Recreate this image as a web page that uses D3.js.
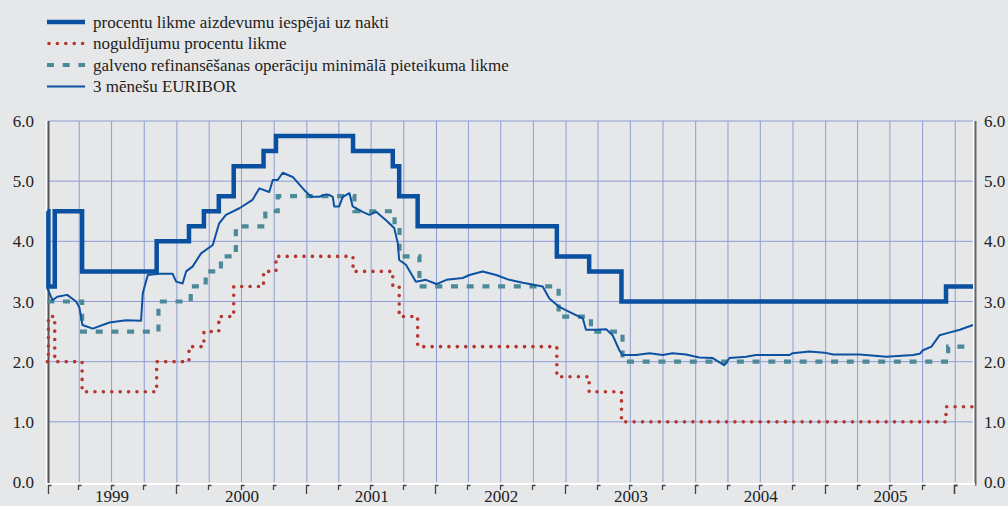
<!DOCTYPE html>
<html>
<head>
<meta charset="utf-8">
<script src="https://cdn.jsdelivr.net/npm/d3@7"></script>
<style>
  body { margin: 0; background: #e6e7e9; }
  svg { display: block; font-family: "Liberation Serif", "Times New Roman", serif; }
</style>
</head>
<body>
<svg width="1008" height="506"></svg>
<script>
// step series: date of change, new rate
let marginalDates = ["1999-01-01", "1999-01-04", "1999-01-22", "1999-04-09", "1999-11-05", "2000-02-04", "2000-03-17", "2000-04-28", "2000-06-09", "2000-09-01", "2000-10-06", "2001-05-11", "2001-08-31", "2001-09-18", "2001-11-09", "2002-12-06", "2003-03-07", "2003-06-06", "2005-12-06"];
let marginalValues = [4.50, 3.25, 4.50, 3.50, 4.00, 4.25, 4.50, 4.75, 5.25, 5.50, 5.75, 5.50, 5.25, 4.75, 4.25, 3.75, 3.50, 3.00, 3.25];

let depositDates = ["1999-01-01", "1999-01-04", "1999-01-22", "1999-04-09", "1999-11-05", "2000-02-04", "2000-03-17", "2000-04-28", "2000-06-09", "2000-09-01", "2000-10-06", "2001-05-11", "2001-08-31", "2001-09-18", "2001-11-09", "2002-12-06", "2003-03-07", "2003-06-06", "2005-12-06"];
let depositValues = [2.00, 2.75, 2.00, 1.50, 2.00, 2.25, 2.50, 2.75, 3.25, 3.50, 3.75, 3.50, 3.25, 2.75, 2.25, 1.75, 1.50, 1.00, 1.25];

let mroDates = ["1999-01-01", "1999-04-09", "1999-11-10", "2000-02-09", "2000-03-22", "2000-05-04", "2000-06-15", "2000-09-06", "2000-10-11", "2001-05-15", "2001-09-05", "2001-09-19", "2001-11-14", "2002-12-11", "2003-03-12", "2003-06-09", "2005-12-12"];
let mroValues = [3.00, 2.50, 3.00, 3.25, 3.50, 3.75, 4.25, 4.50, 4.75, 4.50, 4.25, 3.75, 3.25, 2.75, 2.50, 2.00, 2.25];

// 3M EURIBOR
let euriborDates = ["1999-01-01", "1999-01-16", "1999-01-29", "1999-02-26", "1999-03-23", "1999-04-01", "1999-04-10", "1999-05-09", "1999-06-25", "1999-08-11", "1999-09-22", "1999-09-27", "1999-10-11", "1999-11-13", "1999-12-20", "1999-12-30",
  "2000-01-17", "2000-01-27", "2000-02-14", "2000-03-09", "2000-04-11", "2000-04-29", "2000-05-18", "2000-06-25", "2000-08-01", "2000-08-20", "2000-09-17", "2000-09-27", "2000-10-11", "2000-10-25", "2000-11-22", "2000-12-25",
  "2001-01-13", "2001-02-05", "2001-02-24", "2001-03-05", "2001-03-15", "2001-03-19", "2001-04-02", "2001-04-12", "2001-05-01", "2001-05-10", "2001-06-07", "2001-06-26", "2001-07-15", "2001-08-12", "2001-09-04", "2001-09-14", "2001-09-18", "2001-10-07", "2001-11-04", "2001-12-02",
  "2002-01-01", "2002-01-29", "2002-03-16", "2002-04-04", "2002-05-11", "2002-06-18", "2002-07-25", "2002-09-01", "2002-10-09", "2002-10-27", "2002-11-15", "2002-12-13",
  "2003-01-20", "2003-02-17", "2003-02-26", "2003-03-26", "2003-04-24", "2003-05-12", "2003-05-31", "2003-06-09", "2003-07-17", "2003-08-24", "2003-09-30", "2003-10-28", "2003-12-05",
  "2004-01-11", "2004-02-18", "2004-03-22", "2004-04-05", "2004-05-22", "2004-06-19", "2004-09-21", "2004-09-30", "2004-11-16", "2004-12-29",
  "2005-01-22", "2005-04-07", "2005-06-21", "2005-09-04", "2005-09-23", "2005-10-02", "2005-10-26", "2005-11-18", "2005-12-07", "2006-01-14", "2006-02-20"];
let euriborValues = [3.22, 3.02, 3.08, 3.11, 3.00, 2.91, 2.61, 2.55, 2.65, 2.69, 2.68, 3.14, 3.44, 3.46, 3.46, 3.33,
  3.30, 3.50, 3.58, 3.80, 3.94, 4.30, 4.44, 4.55, 4.69, 4.88, 4.82, 5.02, 5.02, 5.14, 5.07, 4.85,
  4.74, 4.74, 4.78, 4.77, 4.74, 4.58, 4.58, 4.74, 4.80, 4.58, 4.49, 4.44, 4.49, 4.35, 4.22, 3.97, 3.69, 3.61, 3.33, 3.36,
  3.29, 3.36, 3.39, 3.44, 3.50, 3.44, 3.36, 3.31, 3.27, 3.25, 3.05, 2.91,
  2.80, 2.72, 2.53, 2.53, 2.54, 2.44, 2.19, 2.11, 2.11, 2.14, 2.11, 2.14, 2.12,
  2.07, 2.06, 1.94, 2.06, 2.08, 2.11, 2.11, 2.14, 2.17, 2.15,
  2.12, 2.12, 2.08, 2.11, 2.13, 2.19, 2.25, 2.44, 2.47, 2.53, 2.61];

let yTicks = [0, 1, 2, 3, 4, 5, 6];
let yearLabels = ["1999", "2000", "2001", "2002", "2003", "2004", "2005"];

let legendLabels = [
  "procentu likme aizdevumu iespējai uz nakti",
  "noguldījumu procentu likme",
  "galveno refinansēšanas operāciju minimālā pieteikuma likme",
  "3 mēnešu EURIBOR"
];

let parse = d3.timeParse("%Y-%m-%d");
let endDate = parse("2006-02-20");

let svg = d3.select("svg"),
  plotLeft = 48.5, plotRight = 973, plotTop = 121, plotBottom = 482;

let x = d3.scaleTime().domain([parse("1999-01-01"), endDate]).range([47.3, plotRight]);
let y = d3.scaleLinear().domain([0, 6]).range([plotBottom, plotTop]);

let gridColor = "#8e9dd6";

// grid
let quarters = d3.timeMonth.every(3).range(parse("1999-01-01"), endDate);
svg.append("g").selectAll("line")
  .data(quarters.slice(1))
  .enter().append("line")
  .attr("x1", (d) => x(d)).attr("x2", (d) => x(d))
  .attr("y1", plotTop).attr("y2", plotBottom)
  .attr("stroke", gridColor).attr("stroke-width", 1);

svg.append("g").selectAll("line")
  .data(yTicks.slice(1))
  .enter().append("line")
  .attr("x1", plotLeft).attr("x2", plotRight)
  .attr("y1", (d) => y(d)).attr("y2", (d) => y(d))
  .attr("stroke", gridColor).attr("stroke-width", 1);

// axes frame (white line with dark shadow)
svg.append("line").attr("x1", 46.5).attr("x2", 46.5).attr("y1", plotTop).attr("y2", 485)
  .attr("stroke", "#fff").attr("stroke-width", 1.5);
svg.append("line").attr("x1", 48.5).attr("x2", 48.5).attr("y1", plotTop).attr("y2", 484)
  .attr("stroke", "#555").attr("stroke-width", 2);
svg.append("line").attr("x1", 973.5).attr("x2", 973.5).attr("y1", plotTop).attr("y2", 484)
  .attr("stroke", "#fff").attr("stroke-width", 1.5);
svg.append("line").attr("x1", 975.5).attr("x2", 975.5).attr("y1", plotTop).attr("y2", 485.5)
  .attr("stroke", "#666").attr("stroke-width", 2);
svg.append("line").attr("x1", 46).attr("x2", 975).attr("y1", 484).attr("y2", 484)
  .attr("stroke", "#fff").attr("stroke-width", 2);

let ticks = svg.append("g").selectAll("g")
  .data(quarters.concat([parse("2006-01-01")]))
  .enter().append("g");
ticks.append("path")
  .attr("d", (d) => {
    let tx = Math.max(48.5, Math.round(x(d)) - 0.5);
    let len = d.getMonth() === 0 ? 9 : 5;
    return "M" + (tx + 3) + ",485.5H" + tx + "V" + (485 + len);
  })
  .attr("fill", "none").attr("stroke", "#444").attr("stroke-width", 1.3);

// year labels
svg.append("g").selectAll("text")
  .data(yearLabels)
  .enter().append("text")
  .attr("x", (d) => (x(parse(d + "-01-01")) + x(parse((+d + 1) + "-01-01"))) / 2)
  .attr("y", 502)
  .attr("text-anchor", "middle")
  .attr("font-size", 17)
  .attr("fill", "#222")
  .text((d) => d);

// y labels both sides
svg.append("g").selectAll("text")
  .data(yTicks)
  .enter().append("text")
  .attr("x", 34).attr("y", (d) => y(d) + 6)
  .attr("text-anchor", "end")
  .attr("font-size", 17).attr("fill", "#222")
  .text((d) => d.toFixed(1));
svg.append("g").selectAll("text")
  .data(yTicks)
  .enter().append("text")
  .attr("x", 984).attr("y", (d) => y(d) + 6)
  .attr("font-size", 17).attr("fill", "#222")
  .text((d) => d.toFixed(1));

// series
function stepData(dates, values) {
  let pts = dates.map((d, i) => ({ date: parse(d), value: values[i] }));
  pts.push({ date: endDate, value: values[values.length - 1] });
  return pts;
}

let stepLine = d3.line().curve(d3.curveStepAfter).x((d) => x(d.date)).y((d) => y(d.value));
let plainLine = d3.line().x((d) => x(d.date)).y((d) => y(d.value));

let styles = [
  { color: "#0a50a0", width: 4.5, dash: null, cap: "butt" },
  { color: "#b5362f", width: 3.6, dash: "0 8.4", cap: "round" },
  { color: "#4d8a99", width: 4.2, dash: "7 8.7", cap: "butt" },
  { color: "#0b52a2", width: 2, dash: null, cap: "butt" }
];

svg.append("path")
  .datum(stepData(depositDates, depositValues))
  .attr("d", stepLine)
  .attr("fill", "none").attr("stroke", styles[1].color).attr("stroke-width", styles[1].width)
  .attr("stroke-dasharray", styles[1].dash).attr("stroke-linecap", "round");

svg.append("path")
  .datum(stepData(mroDates, mroValues))
  .attr("d", stepLine)
  .attr("fill", "none").attr("stroke", styles[2].color).attr("stroke-width", styles[2].width)
  .attr("stroke-dasharray", styles[2].dash);

svg.append("path")
  .datum(euriborDates.map((d, i) => ({ date: parse(d), value: euriborValues[i] })))
  .attr("d", plainLine)
  .attr("fill", "none").attr("stroke", styles[3].color).attr("stroke-width", styles[3].width)
  .attr("stroke-linejoin", "round");

svg.append("path")
  .datum(stepData(marginalDates, marginalValues))
  .attr("d", stepLine)
  .attr("fill", "none").attr("stroke", styles[0].color).attr("stroke-width", styles[0].width);

// legend
let legend = svg.append("g").selectAll("g")
  .data(legendLabels)
  .enter().append("g")
  .attr("transform", (d, i) => "translate(0," + (22 + i * 21.5) + ")");

legend.append("line")
  .attr("x1", (d, i) => i === 1 ? 49 : 47).attr("x2", 85)
  .attr("y1", 0).attr("y2", 0)
  .attr("stroke", (d, i) => styles[i].color)
  .attr("stroke-width", (d, i) => styles[i].width)
  .attr("stroke-dasharray", (d, i) => styles[i].dash)
  .attr("stroke-linecap", (d, i) => styles[i].cap);

legend.append("text")
  .attr("x", 93).attr("y", 5.5)
  .attr("font-size", 17).attr("fill", "#222")
  .text((d) => d);
</script>
</body>
</html>
